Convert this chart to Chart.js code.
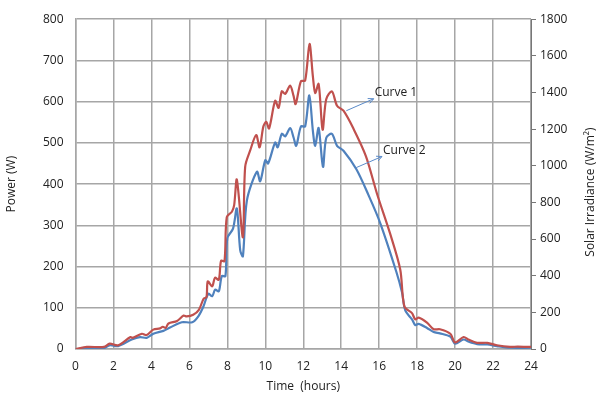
<!DOCTYPE html>
<html>
<head>
<meta charset="utf-8">
<script src="https://cdn.jsdelivr.net/npm/chart.js@4.4.1/dist/chart.umd.min.js"></script>
<style>
  html, body { margin: 0; padding: 0; background: #fff; }
  #wrap { width: 599px; height: 396px; }
</style>
</head>
<body>
<div id="wrap"><canvas id="chart" width="599" height="396"></canvas></div>
<script>
// Curve 1 (red)
var curve1Hours = [0, 0.6, 1.5, 1.8, 2.25, 2.9, 3.0, 3.5, 3.75, 4.1, 4.45, 4.6, 4.75, 4.9, 5.35, 5.7, 5.85, 6.2, 6.5, 6.75, 6.9, 6.97, 7.2, 7.35, 7.55, 7.67, 7.85, 7.97, 8.24, 8.36, 8.5, 8.82, 8.94, 9.2, 9.52, 9.7, 9.9, 10.05, 10.2, 10.52, 10.7, 10.87, 11.05, 11.31, 11.49, 11.6, 11.88, 12.1, 12.33, 12.51, 12.63, 12.81, 13.02, 13.21, 13.51, 13.78, 14.12, 14.65, 15.3, 15.89, 16.59, 17.11, 17.33, 17.73, 17.9, 18.08, 18.52, 18.87, 19.2, 19.75, 20.0, 20.45, 20.7, 21.16, 21.7, 22.2, 22.9, 23.3, 24];
var curve1Power = [0, 5, 5, 13, 9, 29, 27, 37, 34, 47, 50, 54, 51, 62, 68, 81, 79, 83, 95, 122, 126, 164, 152, 173, 168, 214, 213, 320, 333, 349, 411, 271, 442, 481, 519, 489, 540, 551, 535, 602, 585, 625, 619, 639, 614, 594, 650, 651, 740, 660, 621, 643, 532, 606, 625, 590, 578, 534, 468, 376, 278, 193, 103, 87, 72, 76, 64, 48, 48, 37, 16, 29, 23, 15, 15, 9, 5, 6, 5];

// Curve 2 (blue)
var curve2Hours = [0, 1.5, 1.8, 2.25, 2.96, 3.4, 3.75, 4.1, 4.63, 4.98, 5.6, 6.15, 6.48, 6.74, 7.0, 7.2, 7.36, 7.55, 7.71, 7.9, 8.0, 8.3, 8.5, 8.68, 8.82, 9.03, 9.56, 9.73, 10.0, 10.15, 10.52, 10.65, 10.87, 11.05, 11.31, 11.49, 11.63, 11.88, 12.1, 12.32, 12.51, 12.63, 12.81, 13.04, 13.21, 13.51, 13.78, 14.12, 14.8, 15.45, 16.06, 16.9, 17.2, 17.38, 17.73, 17.9, 18.08, 18.52, 18.87, 19.2, 19.75, 20.0, 20.45, 20.7, 21.16, 21.7, 22.2, 22.9, 24];
var curve2Power = [0, 2, 9, 7, 23, 29, 27, 37, 44, 52, 65, 65, 80, 103, 134, 128, 144, 140, 177, 177, 269, 292, 341, 239, 225, 360, 430, 407, 458, 450, 501, 489, 522, 516, 536, 513, 493, 540, 540, 615, 528, 493, 536, 442, 512, 522, 493, 481, 436, 372, 305, 188, 138, 93, 72, 58, 61, 51, 41, 38, 30, 13, 23, 18, 12, 11, 7, 3, 3];

// labels with arrows (data units)
var curveLabels = ['Curve 1', 'Curve 2'];
var arrowFrom = [[14.27, 578], [14.79, 440]];
var arrowTo = [[15.71, 607], [16.15, 467]];

var rightTitle = 'Solar Irradiance (W/m²)';

function toPoints(xs, ys) {
  var pts = [];
  for (var i = 0; i < xs.length; i++) pts.push({x: xs[i], y: ys[i]});
  return pts;
}

var fontFamily = "'Open Sans', 'Liberation Sans', sans-serif";
var gridColor = '#a6a6a6';

// arrows + text, and the right axis title (reads bottom to top like the left one)
var labelPlugin = {
  id: 'curveLabels',
  afterDatasetsDraw: function(chart) {
    var ctx = chart.ctx;
    var xs = chart.scales.x, ys = chart.scales.y;
    ctx.save();
    for (var i = 0; i < curveLabels.length; i++) {
      var x1 = xs.getPixelForValue(arrowFrom[i][0]), y1 = ys.getPixelForValue(arrowFrom[i][1]);
      var x2 = xs.getPixelForValue(arrowTo[i][0]), y2 = ys.getPixelForValue(arrowTo[i][1]);
      ctx.strokeStyle = '#5b8bc9';
      ctx.lineWidth = 1;
      ctx.beginPath();
      ctx.moveTo(x1, y1);
      ctx.lineTo(x2, y2);
      ctx.stroke();
      var a = Math.atan2(y2 - y1, x2 - x1);
      ctx.beginPath();
      ctx.moveTo(x2, y2);
      ctx.lineTo(x2 - 6 * Math.cos(a - 0.45), y2 - 6 * Math.sin(a - 0.45));
      ctx.moveTo(x2, y2);
      ctx.lineTo(x2 - 6 * Math.cos(a + 0.45), y2 - 6 * Math.sin(a + 0.45));
      ctx.stroke();
      ctx.fillStyle = '#222';
      ctx.font = '12px ' + fontFamily;
      ctx.textBaseline = 'middle';
      ctx.fillText(curveLabels[i], x2 + 1, y2 - 6);
    }
    ctx.restore();
  },
  afterDraw: function(chart) {
    var ctx = chart.ctx;
    var area = chart.chartArea;
    ctx.save();
    ctx.translate(chart.width - 8, (area.top + area.bottom) / 2 + 8);
    ctx.rotate(-Math.PI / 2);
    ctx.fillStyle = '#222';
    ctx.font = '12px ' + fontFamily;
    ctx.textAlign = 'center';
    ctx.textBaseline = 'middle';
    ctx.fillText(rightTitle, 0, 0);
    ctx.restore();
  }
};

var config = {
  type: 'line',
  data: {
    datasets: [{
      label: 'Curve 1',
      data: toPoints(curve1Hours, curve1Power),
      borderColor: '#c0504d',
      borderWidth: 2.2,
      pointRadius: 0,
      tension: 0.3,
      yAxisID: 'y'
    }, {
      label: 'Curve 2',
      data: toPoints(curve2Hours, curve2Power),
      borderColor: '#4f81bd',
      borderWidth: 2.2,
      pointRadius: 0,
      tension: 0.3,
      yAxisID: 'y'
    }]
  },
  options: {
    responsive: false,
    animation: false,
    layout: { padding: { top: 8, left: 0, right: 0, bottom: 0 } },
    plugins: { legend: { display: false }, tooltip: { enabled: false } },
    scales: {
      x: {
        type: 'linear', min: 0, max: 24,
        ticks: { stepSize: 2, color: '#222', font: { family: fontFamily, size: 12 }, padding: 10, maxRotation: 0 },
        grid: { color: gridColor, lineWidth: 1.5, drawTicks: false },
        border: { color: gridColor, width: 1.5 },
        title: { display: true, text: 'Time  (hours)', color: '#222', font: { family: fontFamily, size: 12 }, padding: { top: 4, bottom: 2 } },
        afterFit: function(s) { s.height = 47; }
      },
      y: {
        position: 'left', min: 0, max: 800,
        ticks: { stepSize: 100, color: '#222', font: { family: fontFamily, size: 12 }, padding: 12 },
        grid: { color: gridColor, lineWidth: 1.5, drawTicks: false },
        border: { color: gridColor, width: 1.5 },
        title: { display: true, text: 'Power (W)', color: '#222', font: { family: fontFamily, size: 12 }, padding: { top: 4, bottom: 0 } },
        afterFit: function(s) { s.width = 75.5; }
      },
      y1: {
        position: 'right', min: 0, max: 1800,
        ticks: { stepSize: 200, color: '#222', font: { family: fontFamily, size: 12 }, padding: 4,
                 callback: function(v) { return String(v); } },
        grid: { drawOnChartArea: false, color: '#777', tickLength: 5 },
        border: { color: '#777', width: 1 },
        title: { display: false },
        afterFit: function(s) { s.width = 68; }
      }
    }
  },
  plugins: [labelPlugin]
};

var ctx = document.getElementById('chart').getContext('2d');
window.myChart = new Chart(ctx, config);
</script>
</body>
</html>
